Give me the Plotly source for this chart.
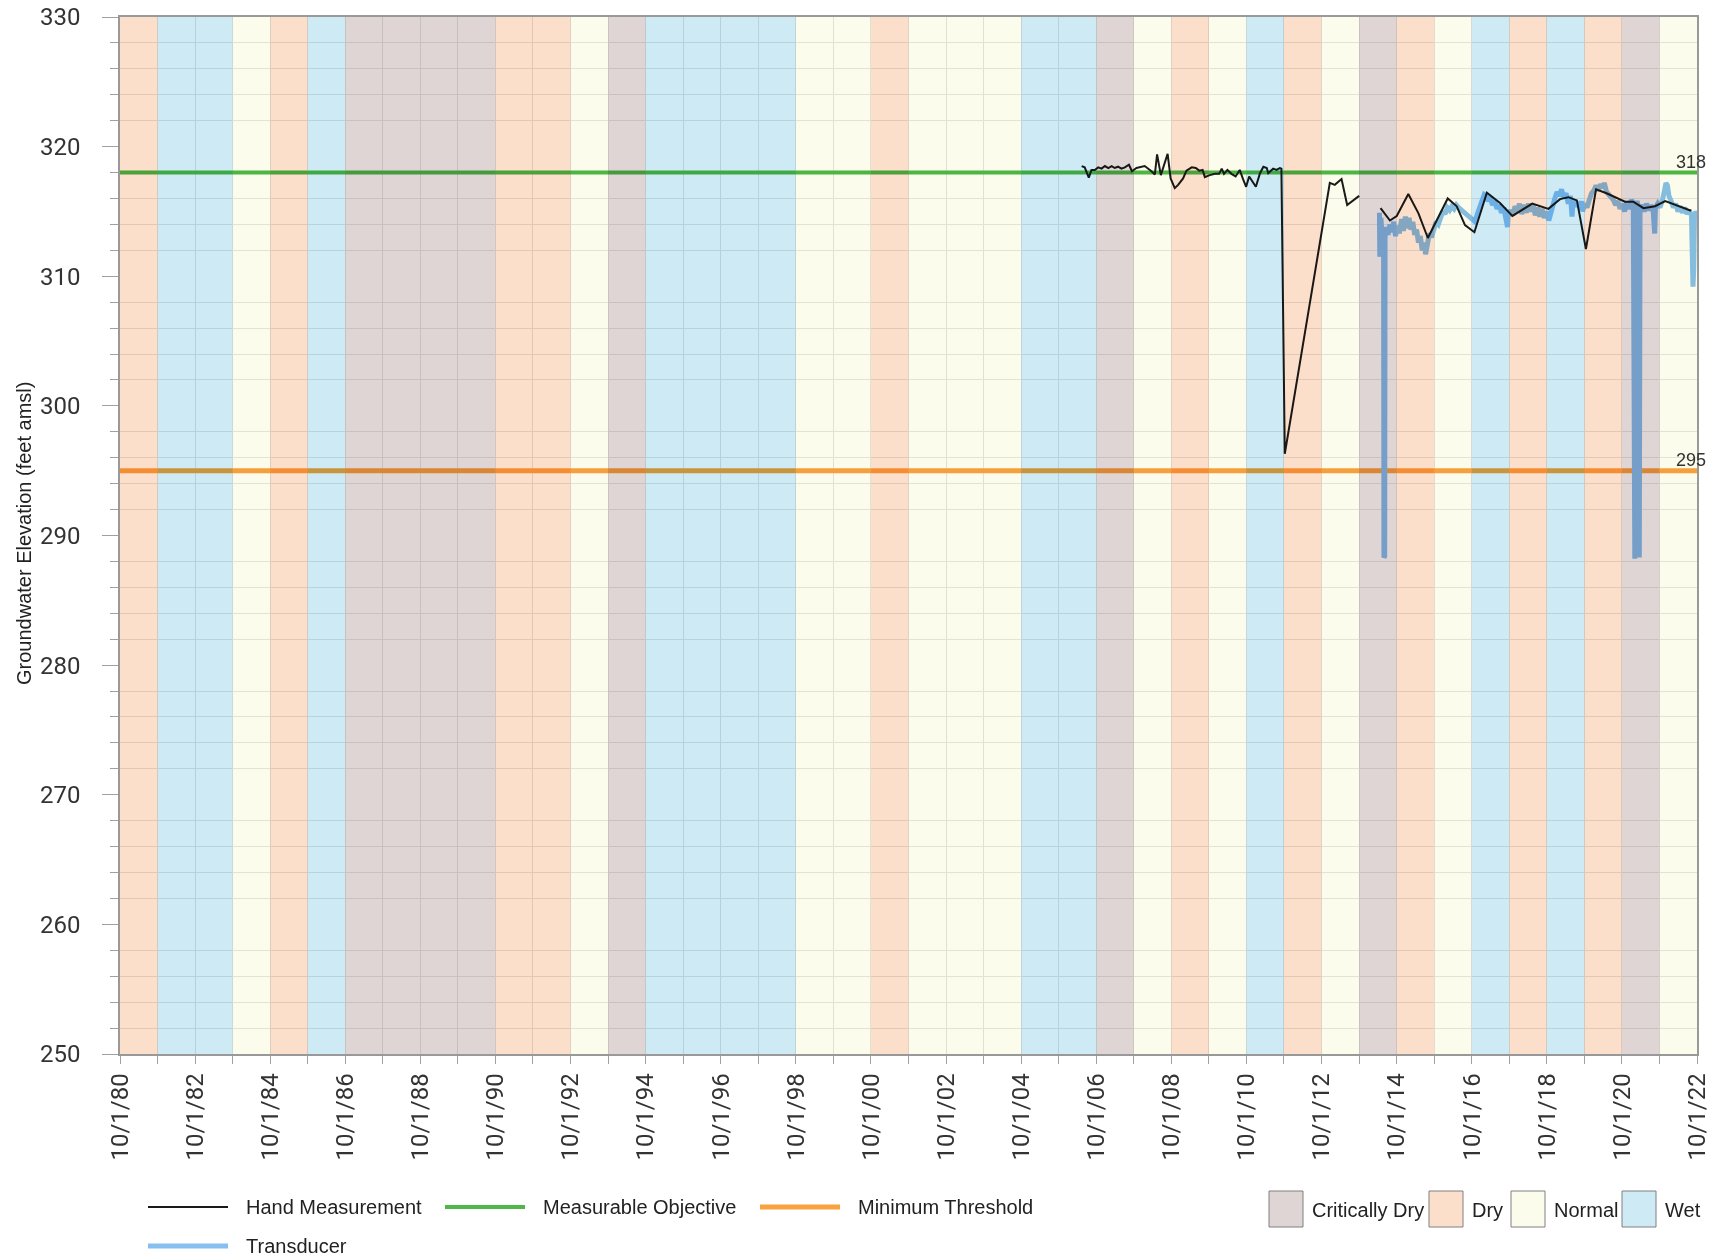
import datetime as dt

import plotly.graph_objects as go

# water year classification (water year ends 9/30 of the listed year)
water_years = list(range(1981, 2023))
wy_types = [
    "Dry", "Wet", "Wet", "Normal", "Dry", "Wet",
    "Critically Dry", "Critically Dry", "Critically Dry", "Critically Dry",
    "Dry", "Dry", "Normal", "Critically Dry",
    "Wet", "Wet", "Wet", "Wet", "Normal", "Normal", "Dry",
    "Normal", "Normal", "Normal", "Wet", "Wet", "Critically Dry",
    "Normal", "Dry", "Normal", "Wet", "Dry", "Normal", "Critically Dry",
    "Dry", "Normal", "Wet", "Dry", "Wet", "Dry", "Critically Dry", "Normal",
]

# hand measurements (decimal year, feet amsl); None = gap
hand_t = [
    2006.36, 2006.44, 2006.55, 2006.62, 2006.71, 2006.80, 2006.89, 2006.98,
    2007.07, 2007.16, 2007.24, 2007.33, 2007.42, 2007.51, 2007.62, 2007.70,
    2007.82, 2007.95, 2008.04, 2008.22, 2008.31, 2008.37, 2008.47, 2008.65,
    2008.73, 2008.84, 2008.93, 2009.06, 2009.15, 2009.29, 2009.40, 2009.49,
    2009.58, 2009.64, 2009.77, 2009.91, 2010.02, 2010.09, 2010.15, 2010.24,
    2010.35, 2010.46, 2010.57, 2010.65, 2010.74, 2010.82, 2011.00, 2011.11,
    2011.20, 2011.29, 2011.33, 2011.46, 2011.55, 2011.64, 2011.68, 2011.77,
    2012.97, 2013.10, 2013.28, 2013.43, 2013.75, 2014.00,
    2014.32, 2014.57, 2014.75, 2015.06, 2015.33, 2015.58, 2016.11, 2016.35,
    2016.57, 2016.82, 2017.15, 2017.50, 2017.83, 2018.36, 2018.79, 2019.10,
    2019.32, 2019.55, 2019.79, 2020.06, 2020.34, 2020.83, 2021.05, 2021.32,
    2021.63, 2021.90, 2022.59,
]
hand_v = [
    318.5, 318.4, 317.6, 318.2, 318.2, 318.4, 318.3, 318.5,
    318.35, 318.5, 318.35, 318.45, 318.3, 318.4, 318.6, 318.1,
    318.35, 318.45, 318.5, 318.1, 317.85, 319.4, 317.8, 319.45,
    317.55, 316.8, 317.05, 317.55, 318.15, 318.4, 318.35, 318.15,
    318.2, 317.65, 317.8, 317.9, 317.9, 318.3, 317.9, 318.2,
    317.9, 317.7, 318.2, 317.55, 316.9, 317.7, 316.9, 317.95,
    318.45, 318.35, 317.95, 318.3, 318.2, 318.35, 318.3, 296.3,
    317.2, 317.05, 317.5, 315.5, 316.2, None,
    315.25, 314.3, 314.65, 316.35, 314.85, 312.95, 316.0, 315.4,
    313.95, 313.4, 316.45, 315.65, 314.65, 315.6, 315.2, 315.95,
    316.1, 315.85, 312.1, 316.7, 316.4, 315.75, 315.75, 315.25,
    315.4, 315.8, 315.05,
]

# continuous transducer record (decimal year, feet amsl)
xdcr_t = [
    2014.29, 2014.30, 2014.33, 2014.36, 2014.40, 2014.41, 2014.43, 2014.44,
    2014.48, 2014.52, 2014.57, 2014.62, 2014.67, 2014.72, 2014.77, 2014.82,
    2014.88, 2014.93, 2014.98, 2015.03, 2015.08, 2015.13, 2015.18, 2015.23,
    2015.28, 2015.33, 2015.38, 2015.43, 2015.48, 2015.52, 2015.56, 2015.62,
    2015.68, 2015.74, 2015.80, 2015.86, 2015.92, 2015.98, 2016.04, 2016.10,
    2016.16, 2016.22, 2016.28, 2016.34, 2016.40, 2016.44, 2016.84, 2016.90,
    2016.96, 2017.02, 2017.08, 2017.13, 2017.18, 2017.24, 2017.30, 2017.36,
    2017.42, 2017.48, 2017.54, 2017.60, 2017.66, 2017.70, 2017.72, 2017.78,
    2017.84, 2017.90, 2017.96, 2018.02, 2018.08, 2018.14, 2018.20, 2018.26,
    2018.32, 2018.38, 2018.44, 2018.50, 2018.56, 2018.62, 2018.68, 2018.74,
    2018.80, 2018.84, 2018.90, 2018.96, 2019.02, 2019.08, 2019.14, 2019.20,
    2019.26, 2019.32, 2019.38, 2019.42, 2019.45, 2019.52, 2019.58, 2019.64,
    2019.68, 2019.70, 2019.76, 2019.82, 2019.88, 2019.94, 2020.00, 2020.06,
    2020.12, 2020.18, 2020.24, 2020.28, 2020.34, 2020.40, 2020.46, 2020.52,
    2020.58, 2020.64, 2020.70, 2020.76, 2020.82, 2020.88, 2020.94, 2021.00,
    2021.05, 2021.07, 2021.09, 2021.11, 2021.15, 2021.18, 2021.19, 2021.21,
    2021.23, 2021.28, 2021.34, 2021.40, 2021.46, 2021.52, 2021.58, 2021.62,
    2021.64, 2021.70, 2021.76, 2021.82, 2021.88, 2021.92, 2021.96, 2022.00,
    2022.06, 2022.12, 2022.18, 2022.24, 2022.30, 2022.36, 2022.42, 2022.48,
    2022.54, 2022.60, 2022.64, 2022.66, 2022.68, 2022.72, 2022.76,
]
xdcr_v = [
    314.9, 311.5, 314.5, 313.2, 313.5, 288.3, 288.4, 313.0,
    313.8, 313.2, 314.0, 313.4, 314.2, 313.1, 313.9, 313.3,
    314.4, 313.5, 314.6, 313.7, 314.5, 313.6, 314.2, 313.2,
    313.6, 312.6, 313.1, 312.0, 312.6, 311.7, 312.6, 313.3,
    313.0, 313.8, 314.2, 314.0, 314.6, 315.0, 314.8, 315.3,
    315.1, 315.4, 315.2, 315.5, 315.3, 315.2, 314.2, 314.8,
    315.4, 315.9, 316.3, 316.2, 315.8, 316.1, 315.5, 315.8,
    315.2, 315.5, 314.9, 315.3, 314.6, 313.8, 314.8, 315.1,
    314.7, 315.4, 315.0, 315.6, 314.8, 315.5, 314.9, 315.6,
    315.0, 315.5, 314.7, 315.3, 314.6, 315.2, 314.5, 315.0,
    314.3, 314.8, 315.4, 316.0, 316.5, 316.2, 316.7, 316.1,
    316.4, 315.6, 316.2, 314.6, 315.8, 315.4, 315.7, 315.2,
    315.8, 315.0, 315.6, 315.3, 315.9, 316.4, 316.6, 317.0,
    316.6, 317.1, 316.8, 317.2, 316.5, 316.3, 316.0, 315.9,
    315.5, 315.8, 315.2, 315.6, 315.0, 315.7, 315.2, 315.9,
    315.6, 288.3, 288.2, 315.3, 315.8, 315.4, 288.4, 288.3,
    315.2, 315.5, 315.0, 315.6, 315.1, 315.5, 315.0, 313.3,
    315.3, 315.6, 315.3, 315.8, 316.6, 317.2, 317.0, 316.2,
    315.8, 315.3, 315.6, 315.0, 315.4, 314.9, 315.3, 314.8,
    315.1, 314.7, 309.2, 310.5, 314.6, 315.0, 314.6,
]

measurable_objective = 318
minimum_threshold = 295
x_start, x_end = "1980-10-01", "2022-10-01"

# colours
WY_COLORS = {
    "Critically Dry": "#dfd5d5",
    "Dry": "#fbdfcb",
    "Normal": "#fcfcec",
    "Wet": "#cdeaf5",
}
HAND_COLOR = "#1a1a1a"
XDCR_COLOR = "#86bff0"
MO_COLOR = "#4db848"
MT_COLOR = "#f9a23f"

LABELFONT = "Liberation Sans, Arial, sans-serif"
TICKFONT = "Roboto, Liberation Sans, sans-serif"

# page geometry (px); body margin is removed in the post script
W, H = 1720, 1260
ML, MR, MT, MB = 120, 23, 17, 206
PW, PH = W - ML - MR, H - MT - MB


def px_x(px):
    """page x pixel -> paper x"""
    return (px - ML) / PW


def px_y(py):
    """page y pixel -> paper y"""
    return (H - MB - py) / PH


def to_date(y):
    if y is None:
        return None
    yr = int(y)
    return dt.datetime(yr, 1, 1) + dt.timedelta(days=(y - yr) * 365.25)


fig = go.Figure()

fig.add_trace(go.Scatter(
    x=[x_start, x_end], y=[measurable_objective] * 2,
    mode="lines", line=dict(color=MO_COLOR, width=4),
    name="Measurable Objective", showlegend=False,
))
fig.add_trace(go.Scatter(
    x=[x_start, x_end], y=[minimum_threshold] * 2,
    mode="lines", line=dict(color=MT_COLOR, width=5),
    name="Minimum Threshold", showlegend=False,
))
fig.add_trace(go.Scatter(
    x=[to_date(t) for t in xdcr_t], y=xdcr_v,
    mode="lines", line=dict(color=XDCR_COLOR, width=5),
    name="Transducer", showlegend=False,
))
fig.add_trace(go.Scatter(
    x=[to_date(t) for t in hand_t], y=hand_v,
    mode="lines", line=dict(color=HAND_COLOR, width=2),
    name="Hand Measurement", showlegend=False,
))

shapes = []
# water year bands, blended over the data (multiply) in post_script
for wy, kind in zip(water_years, wy_types):
    shapes.append(dict(
        type="rect", xref="x", yref="paper",
        x0=f"{wy - 1}-10-01", x1=f"{wy}-10-01", y0=0, y1=1,
        fillcolor=WY_COLORS[kind], line=dict(width=0), layer="above",
    ))

annotations = [
    dict(text=str(measurable_objective), xref="paper", yref="y",
         x=px_x(1708), y=measurable_objective, xanchor="right", yanchor="middle",
         yshift=11, showarrow=False,
         font=dict(family=LABELFONT, size=18, color="#333")),
    dict(text=str(minimum_threshold), xref="paper", yref="y",
         x=px_x(1708), y=minimum_threshold, xanchor="right", yanchor="middle",
         yshift=11, showarrow=False,
         font=dict(family=LABELFONT, size=18, color="#333")),
    # y axis title
    dict(text="Groundwater Elevation (feet amsl)", textangle=-90,
         xref="paper", yref="paper", x=px_x(24), y=px_y(534),
         xanchor="center", yanchor="middle", showarrow=False,
         font=dict(family=LABELFONT, size=20, color="#222")),
]

# legend: line samples
line_items = [
    ("Hand Measurement", HAND_COLOR, 2, 148, 1207),
    ("Measurable Objective", MO_COLOR, 4, 445, 1207),
    ("Minimum Threshold", MT_COLOR, 5, 760, 1207),
    ("Transducer", XDCR_COLOR, 5, 148, 1246),
]
for label, color, width, x0, yy in line_items:
    shapes.append(dict(
        type="line", xref="paper", yref="paper",
        x0=px_x(x0), x1=px_x(x0 + 80), y0=px_y(yy), y1=px_y(yy),
        line=dict(color=color, width=width),
    ))
    annotations.append(dict(
        text=label, xref="paper", yref="paper", x=px_x(x0 + 96), y=px_y(yy),
        xanchor="left", yanchor="middle", showarrow=False,
        font=dict(family=LABELFONT, size=20, color="#222"),
    ))

# legend: water year boxes
box_items = [("Critically Dry", 1269), ("Dry", 1429), ("Normal", 1511), ("Wet", 1622)]
for label, x0 in box_items:
    shapes.append(dict(
        type="rect", xref="paper", yref="paper",
        x0=px_x(x0), x1=px_x(x0 + 34), y0=px_y(1227), y1=px_y(1191),
        fillcolor=WY_COLORS[label], line=dict(color="#808080", width=1),
    ))
    annotations.append(dict(
        text=label, xref="paper", yref="paper", x=px_x(x0 + 41), y=px_y(1210),
        xanchor="left", yanchor="middle", showarrow=False,
        font=dict(family=LABELFONT, size=20, color="#222"),
    ))

fig.update_layout(
    width=W, height=H,
    margin=dict(l=ML, r=MR, t=MT, b=MB),
    paper_bgcolor="white",
    plot_bgcolor="white",
    showlegend=False,
    shapes=shapes,
    annotations=annotations,
    xaxis=dict(
        type="date", range=[x_start, x_end],
        tick0=x_start, dtick="M24", tickformat="%-m/%-d/%y", tickangle=-90,
        ticks="outside", ticklen=8, tickcolor="#a0a0a0",
        tickfont=dict(family=TICKFONT, size=24, color="#333"),
        ticklabelstandoff=0, ticklabeloverflow="allow",
        showgrid=True, gridcolor="#e4e4e4", gridwidth=1,
        minor=dict(dtick="M12", tick0=x_start, ticks="outside", ticklen=8,
                   tickcolor="#a0a0a0", showgrid=True, gridcolor="#e4e4e4"),
        showline=True, linecolor="#999", linewidth=1.5, mirror=True,
        zeroline=False, automargin=False,
    ),
    yaxis=dict(
        range=[250, 330], tick0=250, dtick=10,
        ticks="outside", ticklen=16, tickcolor="#a0a0a0",
        tickfont=dict(family=TICKFONT, size=24, color="#333"),
        ticklabelstandoff=17, ticklabeloverflow="allow",
        showgrid=False,
        minor=dict(dtick=2, tick0=250, ticks="outside", ticklen=8,
                   tickcolor="#a0a0a0", showgrid=True, gridcolor="#e6e6e6"),
        showline=True, linecolor="#999", linewidth=1.5, mirror=True,
        zeroline=False, automargin=False,
    ),
    yaxis2=dict(
        overlaying="y", side="left", range=[250, 330],
        tick0=250, dtick=8, showticklabels=False, ticks="",
        showgrid=True, gridcolor="#c9c9c4", gridwidth=2,
        showline=False, zeroline=False,
    ),
)

post_js = """
document.body.style.margin = '0';
var gd = document.getElementById('{plot_id}');
function blendBands() {
  gd.querySelectorAll('.shapelayer path, .shapelayer g').forEach(function (p) {
    p.style.mixBlendMode = 'multiply';
  });
}
blendBands();
gd.on('plotly_afterplot', blendBands);
"""

fig.write_html("out.html", post_script=post_js,
               config={"displayModeBar": False})
